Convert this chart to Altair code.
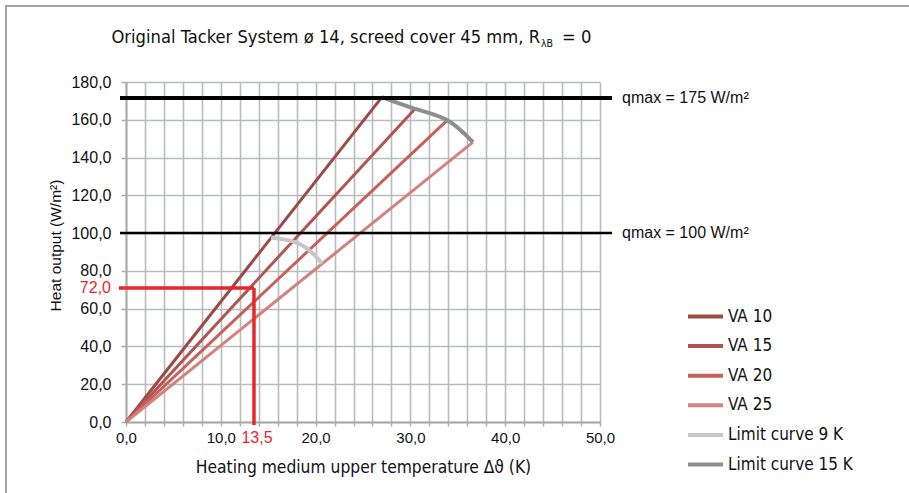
import altair as alt
import pandas as pd

# ---------------- data ----------------
va_names = ["VA 10", "VA 15", "VA 20", "VA 25"]
va_end_x = [27.0, 30.5, 33.9, 36.6]
va_end_y = [172.0, 165.8, 159.8, 148.2]

lim9_name = "Limit curve 9 K"
lim9_x = [15.3, 17.6, 19.3, 20.7]
lim9_y = [97.7, 95.6, 91.0, 84.0]

lim15_name = "Limit curve 15 K"
lim15_x = [27.0, 30.5, 33.9, 36.6]
lim15_y = [172.0, 165.8, 159.8, 148.2]

qmax_y = [171.5, 100.0]
qmax_labels = ["qmax = 175 W/m²", "qmax = 100 W/m²"]

read_x = [13.5]
read_y = [71.0]
read_x_label = ["13,5"]
read_y_label = ["72,0"]

x_ticks = list(range(0, 51, 2))
y_ticks = list(range(0, 181, 20))

title_main = "Original Tacker System ø 14, screed cover 45 mm, R"
title_sub = "λB"
title_end = "= 0"
x_title = "Heating medium upper temperature Δϑ (K)"
y_title = "Heat output (W/m²)"

series_names = va_names + [lim9_name, lim15_name]
series_colors = ["#9c4a46", "#b3554f", "#c4625b", "#d3837f", "#c6c7c7", "#8d8e8e"]

# ---------------- tables ----------------
va_rows = []
for n, ex, ey in zip(va_names, va_end_x, va_end_y):
    va_rows.append({"series": n, "x": 0.0, "y": 0.0, "o": 0})
    va_rows.append({"series": n, "x": ex, "y": ey, "o": 1})
va_df = pd.DataFrame(va_rows)

lim_rows = []
for i, (xx, yy) in enumerate(zip(lim9_x, lim9_y)):
    lim_rows.append({"series": lim9_name, "x": xx, "y": yy, "o": i})
for i, (xx, yy) in enumerate(zip(lim15_x, lim15_y)):
    lim_rows.append({"series": lim15_name, "x": xx, "y": yy, "o": i})
lim_df = pd.DataFrame(lim_rows)

qmax_df = pd.DataFrame({"y": qmax_y, "label": qmax_labels})
read_df = pd.DataFrame({"x": read_x, "y": read_y, "xl": read_x_label, "yl": read_y_label,
                        "x0": [0.0], "y0": [0.0]})

W, H = 474, 340
DIN = "Liberation Sans Narrow, DejaVu Sans Condensed, sans-serif"
ARIAL = "Liberation Sans, Arial, sans-serif"
GRID = "#b9bcbc"
AXC = "#a9acac"

num_expr = "replace(format(datum.value, '.1f'), '.', ',')"

x_scale = alt.Scale(domain=[0, 50], nice=False)
y_scale = alt.Scale(domain=[0, 180], nice=False)

x_enc = alt.X(
    "x:Q", scale=x_scale,
    axis=alt.Axis(
        values=x_ticks, tickCount=len(x_ticks), title=x_title,
        labelExpr="datum.value % 10 == 0 ? " + num_expr + " : ''",
        labelFont=ARIAL, labelFontSize=15, labelColor="#111111", labelFlush=False,
        labelOverlap=False, labelPadding=4, tickSize=4, tickColor=AXC, tickWidth=1.5,
        domainColor=AXC, domainWidth=2,
        grid=True, gridColor=GRID, gridWidth=1.6,
        titleFont=DIN, titleFontSize=17.3, titleFontWeight="normal", titleColor="#111111",
        titlePadding=13,
    ),
)
y_enc = alt.Y(
    "y:Q", scale=y_scale,
    axis=alt.Axis(
        values=y_ticks, tickCount=len(y_ticks), title=y_title,
        labelExpr=num_expr,
        labelFont=ARIAL, labelFontSize=16, labelColor="#111111",
        labelOverlap=False, labelPadding=10, tickSize=5, tickColor=AXC, tickWidth=1.5,
        domainColor=AXC, domainWidth=2,
        grid=True, gridColor=GRID, gridWidth=1.6,
        titleFont=ARIAL, titleFontSize=15.5, titleFontWeight="normal", titleColor="#111111",
        titleAngle=270, titleX=-71, titleY=163, titleAlign="center", titleBaseline="middle",
    ),
)

color = alt.Color(
    "series:N",
    scale=alt.Scale(domain=series_names, range=series_colors),
    legend=alt.Legend(
        title=None, orient="none", legendX=560, legendY=215,
        symbolType="stroke", symbolSize=1225, symbolStrokeWidth=4,
        labelFont=DIN, labelFontSize=17, labelColor="#111111", labelOffset=3,
        rowPadding=1.6, padding=0, labelLimit=300,
    ),
)

va_layer = alt.Chart(va_df).mark_line(strokeWidth=3).encode(
    x=x_enc, y=y_enc, color=color, detail="series:N", order="o:Q"
)
lim_layer = alt.Chart(lim_df).mark_line(strokeWidth=4, interpolate="natural").encode(
    x="x:Q", y="y:Q", color="series:N", detail="series:N", order="o:Q"
)

qmax_top = alt.Chart(qmax_df).transform_filter("datum.y > 150").mark_rule(
    color="#000000", strokeWidth=4
).encode(x=alt.value(-6), x2=alt.value(W + 12), y="y:Q")
qmax_low = alt.Chart(qmax_df).transform_filter("datum.y <= 150").mark_rule(
    color="#000000", strokeWidth=2.5
).encode(x=alt.value(-6), x2=alt.value(W + 12), y="y:Q")
qmax_text = alt.Chart(qmax_df).mark_text(
    align="left", baseline="middle", font=ARIAL, fontSize=16, color="#111111"
).encode(x=alt.value(W + 22), y="y:Q", text="label:N")

RED = "#e8262d"
red_h = alt.Chart(read_df).mark_rule(color=RED, strokeWidth=3.5, xOffset=-7).encode(
    x="x0:Q", x2="x:Q", y="y:Q"
)
red_v = alt.Chart(read_df).mark_rule(color=RED, strokeWidth=3.5, yOffset=3).encode(
    x="x:Q", y="y0:Q", y2="y:Q"
)
red_xl = alt.Chart(read_df).mark_text(
    align="center", baseline="top", font=ARIAL, fontSize=16, color=RED, dx=3
).encode(x="x:Q", y=alt.value(H + 8), text="xl:N")
red_yl = alt.Chart(read_df).mark_text(
    align="right", baseline="middle", font=ARIAL, fontSize=16, color=RED
).encode(x=alt.value(-15), y="y:Q", text="yl:N")

t1 = alt.Chart(pd.DataFrame({"t": [title_main]})).mark_text(
    align="right", baseline="alphabetic", font=DIN, fontSize=18.2, color="#111111"
).encode(x=alt.value(414), y=alt.value(-39), text="t:N")
t2 = alt.Chart(pd.DataFrame({"t": [title_sub]})).mark_text(
    align="left", baseline="alphabetic", font=DIN, fontSize=10.5, color="#111111"
).encode(x=alt.value(415), y=alt.value(-35), text="t:N")
t3 = alt.Chart(pd.DataFrame({"t": [title_end]})).mark_text(
    align="left", baseline="alphabetic", font=DIN, fontSize=18.2, color="#111111"
).encode(x=alt.value(436), y=alt.value(-39), text="t:N")

FRAME = "#9fa3a3"
frame_top = alt.Chart(pd.DataFrame({"a": [0]})).mark_rule(color=FRAME, strokeWidth=2).encode(
    x=alt.value(-120), x2=alt.value(800), y=alt.value(-76)
)
frame_left = alt.Chart(pd.DataFrame({"a": [0]})).mark_rule(color=FRAME, strokeWidth=2).encode(
    x=alt.value(-120), y=alt.value(-77), y2=alt.value(430)
)

chart = alt.layer(
    va_layer, lim_layer, qmax_top, qmax_low, qmax_text, red_h, red_v, red_xl, red_yl,
    t1, t2, t3, frame_top, frame_left
).properties(
    width=W, height=H,
    autosize=alt.AutoSizeParams(type="none"),
    padding={"left": 126, "top": 82, "right": 309, "bottom": 71},
    background="white",
).configure_view(stroke=None)

chart.save("out.html", embed_options={"renderer": "svg", "actions": False})
